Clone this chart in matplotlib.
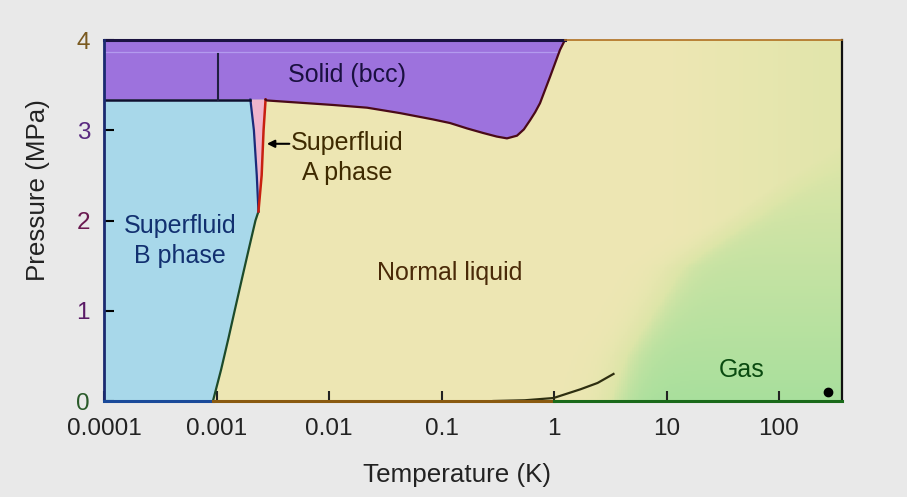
import numpy as np
import matplotlib
matplotlib.use("Agg")
import matplotlib.pyplot as plt
from matplotlib.colors import LinearSegmentedColormap

plt.rcParams['font.family'] = ['Liberation Sans', 'DejaVu Sans']

# ---------------- data ----------------
x_ticks = [1e-4, 1e-3, 1e-2, 1e-1, 1, 10, 100]
x_tick_labels = ["0.0001", "0.001", "0.01", "0.1", "1", "10", "100"]
y_ticks = [0, 1, 2, 3, 4]
y_tick_labels = ["0", "1", "2", "3", "4"]

# superfluid B / normal liquid boundary (T in K, P in MPa)
bn_T = [0.00093, 0.00110, 0.00128, 0.00145, 0.00168, 0.00195, 0.00222, 0.00236]
bn_P = [0.0, 0.35, 0.7, 1.0, 1.35, 1.7, 2.0, 2.1]
# superfluid B / A boundary (from polycritical point up to melting line)
ba_T = [0.00236, 0.00228, 0.00215, 0.00200]
ba_P = [2.1, 2.5, 3.0, 3.34]
# superfluid A / normal liquid boundary
an_T = [0.00236, 0.00252, 0.00262, 0.00273]
an_P = [2.1, 2.5, 3.0, 3.34]
# melting curve (solid / liquid)
melt_T = [0.00273, 0.00281, 0.0109, 0.0218, 0.0428, 0.084, 0.119, 0.169, 0.234,
          0.31, 0.382, 0.469, 0.54, 0.612, 0.68, 0.751, 0.921, 1.13, 1.25]
melt_P = [3.34, 3.33, 3.28, 3.25, 3.19, 3.12, 3.08, 3.02, 2.97,
          2.93, 2.91, 2.94, 3.01, 3.11, 3.20, 3.30, 3.59, 3.89, 4.0]
# solid / superfluid B boundary
sb_T = [1e-4, 0.00200]
sb_P = [3.34, 3.34]
# internal solid transition line
sol_T = [0.00103, 0.00103]
sol_P = [3.34, 3.84]
# vapour pressure curve
vap_T = [0.29, 0.55, 0.99, 1.72, 2.44, 3.38]
vap_P = [0.0, 0.008, 0.033, 0.13, 0.20, 0.30]
# room temperature point
room_T = [275]
room_P = [0.1]

T_min, T_max = 1e-4, 10 ** 2.56
P_min, P_max = 0.0, 4.0

# ---------------- figure ----------------
fig = plt.figure(figsize=(9.07, 4.97), dpi=100)
fig.patch.set_facecolor('#e9e9e9')
ax = fig.add_axes([104 / 907, 96 / 497, 738 / 907, 361 / 497])
ax.set_xscale('log')
ax.set_xlim(T_min, T_max)
ax.set_ylim(P_min, P_max)

# background: normal liquid fading to gas
liquid_c = '#ede6b3'
gas_c = '#a8df9c'
cmap = LinearSegmentedColormap.from_list('lg', [liquid_c, '#dde5a8', gas_c])
lt = np.linspace(np.log10(T_min), np.log10(T_max), 400)
pp = np.linspace(P_min, P_max, 250)
LT, PP = np.meshgrid(lt, pp)
center = np.interp(PP, [0, 0.49, 1.48, 2.04, 4.0], [0.50, 0.613, 1.058, 1.653, 3.6])
f = 1.0 / (1.0 + np.exp(-(LT - center) / 0.11))
fmax = np.clip(1.0 - 0.18 * PP, 0.35, 1.0)
f = f * fmax
f = np.maximum(f, 0.35 * np.clip((LT - 1.0) / 1.4, 0, 1))
ax.pcolormesh(10 ** LT, PP, f, cmap=cmap, vmin=0, vmax=1, shading='auto',
              rasterized=True, zorder=0)

# superfluid B region
bx = [T_min] + bn_T + ba_T[1:] + [T_min]
by = [0.0] + bn_P + ba_P[1:] + [3.34]
ax.fill(bx, by, color='#a8d8ea', zorder=1, lw=0)
# superfluid A region
axx = ba_T + an_T[::-1]
ayy = ba_P + an_P[::-1]
ax.fill(axx, ayy, color='#f0b4cc', zorder=1, lw=0)
# solid region
sx = [T_min, T_min] + melt_T[::-1] + ba_T[::-1][:1]
sy = [3.34, 4.0] + melt_P[::-1] + [3.34]
ax.fill(sx, sy, color='#9d72dd', zorder=1, lw=0)
ax.plot([T_min, 1.1], [3.87, 3.87], color='#b39aee', lw=0.9, zorder=2)

# boundaries
ax.plot(bn_T, bn_P, color='#1d4a2a', lw=1.6, zorder=3)
ax.plot(ba_T, ba_P, color='#1a2a7a', lw=1.6, zorder=3)
ax.plot(an_T, an_P, color='#c82010', lw=1.8, zorder=3)
ax.plot(melt_T, melt_P, color='#4a0a18', lw=1.6, zorder=3, solid_joinstyle='round')
ax.plot(sb_T, sb_P, color='#101030', lw=1.8, zorder=3)
ax.plot(sol_T, sol_P, color='#202040', lw=1.5, zorder=3)
ax.plot(vap_T, vap_P, color='#2e2e10', lw=1.6, zorder=3)
ax.plot(room_T, room_P, 'o', color='black', ms=6, zorder=4)

# spines
for s in ['top', 'bottom', 'left']:
    ax.spines[s].set_visible(False)
ax.spines['right'].set_color('#111111')
ax.spines['right'].set_linewidth(1.6)
ax.plot([T_min, 1.26], [4, 4], color='#1a1240', lw=2.2, clip_on=False, zorder=5)
ax.plot([1.26, T_max], [4, 4], color='#b07020', lw=1.2, clip_on=False, zorder=5)
ax.plot([T_min, T_min], [0, 4], color='#1a2a70', lw=2.0, clip_on=False, zorder=5)
ax.plot([T_min, 0.00093], [0, 0], color='#1a4a9a', lw=2.2, clip_on=False, zorder=5)
ax.plot([0.00093, 1.0], [0, 0], color='#8a5a10', lw=2.2, clip_on=False, zorder=5)
ax.plot([1.0, T_max], [0, 0], color='#1a6a1a', lw=2.2, clip_on=False, zorder=5)

# ticks
ax.set_xticks(x_ticks)
ax.set_xticklabels(x_tick_labels)
ax.xaxis.set_minor_locator(matplotlib.ticker.NullLocator())
ax.set_yticks(y_ticks)
ax.set_yticklabels(y_tick_labels)
ax.tick_params(axis='x', direction='in', length=7, width=1.5, pad=12,
               labelsize=17.5, colors='#222222', top=False)
ax.tick_params(axis='y', direction='in', length=7, width=1.5, pad=10,
               labelsize=17.5, right=False)
ycols = ['#2a5a2a', '#5a1a66', '#6a1a50', '#5a2a80', '#7a5a20']
for lab, c in zip(ax.get_yticklabels(), ycols):
    lab.set_color(c)
for tl in ax.yaxis.get_ticklines():
    tl.set_color('#1a2a70')

# labels
fig.text(457 / 907, 1 - 475 / 497, 'Temperature (K)', ha='center', va='center',
         fontsize=18.7, color='#222222')
fig.text(38 / 907, 1 - 190 / 497, 'Pressure (MPa)', ha='center', va='center',
         rotation=90, fontsize=18.7, color='#222222')

# region annotations
ax.text(0.0145, 3.61, 'Solid (bcc)', ha='center', va='center', fontsize=18,
        color='#1a1040')
ax.text(0.0145, 2.69, 'Superfluid\nA phase', ha='center', va='center', fontsize=18,
        color='#3e2a00', linespacing=1.3)
ax.annotate('', xy=(0.00265, 2.85), xytext=(0.0047, 2.85),
            arrowprops=dict(arrowstyle='-|>', color='black', lw=1.5,
                            mutation_scale=11), zorder=6)
ax.text(0.000474, 1.77, 'Superfluid\nB phase', ha='center', va='center', fontsize=18,
        color='#123070', linespacing=1.3)
ax.text(0.119, 1.42, 'Normal liquid', ha='center', va='center', fontsize=18,
        color='#4a2a08')
ax.text(47, 0.34, 'Gas', ha='center', va='center', fontsize=18, color='#0a4a10')

fig.savefig('out.png', dpi=100, facecolor=fig.get_facecolor())
